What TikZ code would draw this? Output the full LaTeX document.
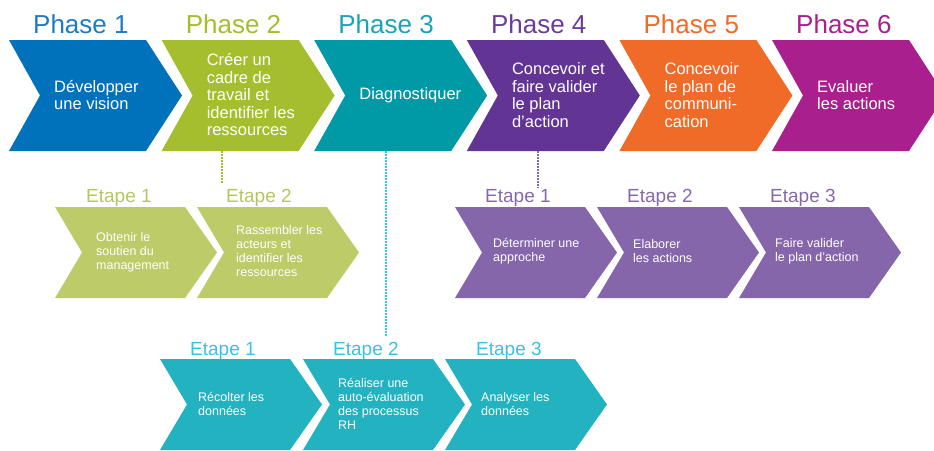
\documentclass[tikz,border=0pt]{standalone}
\usepackage{fontspec}
\setmainfont{Liberation Sans}
\definecolor{phA}{HTML}{0072BC}
\definecolor{phB}{HTML}{A4BE2E}
\definecolor{phC}{HTML}{009AA6}
\definecolor{phD}{HTML}{623493}
\definecolor{phE}{HTML}{F06A28}
\definecolor{phF}{HTML}{A91F8D}
\definecolor{stB}{HTML}{BDCB69}
\definecolor{stC}{HTML}{22B2C0}
\definecolor{stD}{HTML}{8566AB}
\definecolor{lbA}{HTML}{1E7BC4}
\definecolor{lbC}{HTML}{1AA3B3}
\definecolor{lbD}{HTML}{6A3D9A}
\definecolor{lsB}{HTML}{B5C65E}
\definecolor{lsC}{HTML}{35C3E6}
\definecolor{lsD}{HTML}{8668AE}
\newcommand\chevronfill[3]{\fill[#1] (path picture bounding box.north west) -- ([xshift=-#2]path picture bounding box.north east) -- (path picture bounding box.east) -- ([xshift=-#2]path picture bounding box.south east) -- (path picture bounding box.south west) -- ([xshift=#3]path picture bounding box.west) -- cycle;}
\begin{document}
\begin{tikzpicture}[x=1pt,y=-1pt,
phase node/.style={minimum width=173pt,minimum height=111pt,inner sep=0pt,path picture={\chevronfill{#1}{36pt}{31pt}}},
step node/.style={minimum width=162pt,minimum height=91pt,inner sep=0pt,path picture={\chevronfill{#1}{32pt}{27pt}}},
phase label/.style={anchor=base west,inner sep=0pt,text=#1,font=\fontsize{26}{28}\selectfont},
step label/.style={anchor=base west,inner sep=0pt,text=#1,font=\fontsize{19}{21}\selectfont},
phase text/.style={anchor=west,inner sep=0pt,align=left,text=white,font=\fontsize{16.5}{17.5}\selectfont},
step text/.style={anchor=west,inner sep=0pt,align=left,text=white,font=\fontsize{12.5}{14}\selectfont},
dotlink/.style={draw=#1,line width=1.3pt,dash pattern=on 1.3pt off 1.7pt}]
\useasboundingbox (0,0) rectangle (934,450);
% phases
\begin{scope}
\node[phase node=phA] (p1) at (95.5,95.5) {};
\node[phase node=phB] (p2) at (248.1,95.5) {};
\node[phase node=phC] (p3) at (400.7,95.5) {};
\node[phase node=phD] (p4) at (553.3,95.5) {};
\node[phase node=phE] (p5) at (705.9,95.5) {};
\node[phase node=phF] (p6) at (858.5,95.5) {};
\node[phase label=lbA] (l1) at (33,33) {Phase 1};
\node[phase label=phB] (l2) at (185.6,33) {Phase 2};
\node[phase label=lbC] (l3) at (338.2,33) {Phase 3};
\node[phase label=lbD] (l4) at (490.8,33) {Phase 4};
\node[phase label=phE] (l5) at (643.4,33) {Phase 5};
\node[phase label=phF] (l6) at (796,33) {Phase 6};
\node[phase text] (t1) at (54,95) {Développer\\une vision};
\node[phase text] (t2) at (206.6,95) {Créer un\\cadre de\\travail et\\identifier les\\ressources};
\node[phase text] (t3) at (359.2,95) {Diagnostiquer};
\node[phase text] (t4) at (511.8,95) {Concevoir et\\faire valider\\le plan\\d’action};
\node[phase text] (t5) at (664.4,95) {Concevoir\\le plan de\\communi-\\cation};
\node[phase text] (t6) at (817,95) {Evaluer\\les actions};
\end{scope}
% etapes phase 2
\begin{scope}
\node[step node=stB] (b1) at (136,252.5) {};
\node[step node=stB] (b2) at (278,252.5) {};
\node[step label=lsB] (bl1) at (86,202) {Etape 1};
\node[step label=lsB] (bl2) at (226,202) {Etape 2};
\node[step text] (bt1) at (96,252) {Obtenir le\\soutien du\\management};
\node[step text] (bt2) at (236,251) {Rassembler les\\acteurs et\\identifier les\\ressources};
\end{scope}
% etapes phase 4
\begin{scope}
\node[step node=stD] (d1) at (536,252.5) {};
\node[step node=stD] (d2) at (678,252.5) {};
\node[step node=stD] (d3) at (820,252.5) {};
\node[step label=lsD] (dl1) at (485,202) {Etape 1};
\node[step label=lsD] (dl2) at (627,202) {Etape 2};
\node[step label=lsD] (dl3) at (770,202) {Etape 3};
\node[step text] (dt1) at (493,251) {Déterminer une\\approche};
\node[step text] (dt2) at (633,251) {Elaborer\\les actions};
\node[step text] (dt3) at (775,251) {Faire valider\\le plan d’action};
\end{scope}
% etapes phase 3
\begin{scope}
\node[step node=stC] (c1) at (241,404.5) {};
\node[step node=stC] (c2) at (384,404.5) {};
\node[step node=stC] (c3) at (526,404.5) {};
\node[step label=lsC] (cl1) at (190,355) {Etape 1};
\node[step label=lsC] (cl2) at (333,355) {Etape 2};
\node[step label=lsC] (cl3) at (476,355) {Etape 3};
\node[step text] (ct1) at (198,404) {Récolter les\\données};
\node[step text] (ct2) at (338,404) {Réaliser une\\auto-évaluation\\des processus\\RH};
\node[step text] (ct3) at (481,404) {Analyser les\\données};
\end{scope}
\coordinate (e2) at (222,183);
\coordinate (e3) at (386,337);
\coordinate (e4) at (538,188);
\draw[dotlink=phB] (p2.south -| e2) -- (e2);
\draw[dotlink=lsC] (p3.south -| e3) -- (e3);
\draw[dotlink=lsD] (p4.south -| e4) -- (e4);
\end{tikzpicture}
\end{document}
